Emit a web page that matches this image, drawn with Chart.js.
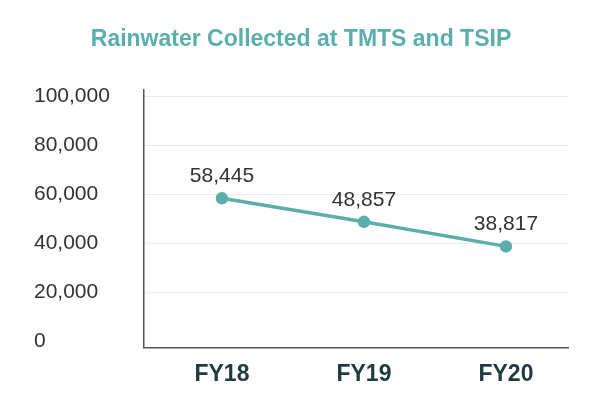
<!DOCTYPE html>
<html>
<head>
<meta charset="utf-8">
<script src="https://cdn.jsdelivr.net/npm/chart.js@4/dist/chart.umd.min.js"></script>
<style>
  html, body { margin: 0; padding: 0; background: #ffffff; }
  #wrap { width: 614px; height: 419px; }
</style>
</head>
<body>
<div id="wrap"><canvas id="c" width="614" height="419"></canvas></div>
<script>
const categories = ["FY18", "FY19", "FY20"];
const values = [58445, 48857, 38817];
const yTicks = [0, 20000, 40000, 60000, 80000, 100000];
const titleText = "Rainwater Collected at TMTS and TSIP";

const FONT = '"Liberation Sans", Arial, Helvetica, sans-serif';
const TEAL = '#5aaeac';

const valueLabels = {
  id: 'valueLabels',
  afterDatasetsDraw(chart) {
    const ctx = chart.ctx;
    const meta = chart.getDatasetMeta(0);
    ctx.save();
    ctx.font = '21px ' + FONT;
    ctx.fillStyle = '#333333';
    ctx.textAlign = 'center';
    ctx.textBaseline = 'middle';
    meta.data.forEach((el, i) => {
      ctx.fillText(values[i].toLocaleString('en-US'), el.x, el.y - 22);
    });
    ctx.restore();
  }
};

new Chart(document.getElementById('c'), {
  type: 'line',
  data: {
    datasets: [{
      data: values.map((v, i) => ({ x: i, y: v })),
      borderColor: TEAL,
      backgroundColor: TEAL,
      borderWidth: 3.5,
      pointRadius: 4.5,
      pointBackgroundColor: TEAL,
      pointBorderColor: TEAL,
      tension: 0,
      fill: false
    }]
  },
  options: {
    responsive: false,
    animation: false,
    devicePixelRatio: 1,
    layout: { padding: { top: 8, left: 34, right: 46, bottom: 18 } },
    plugins: {
      legend: { display: false },
      tooltip: { enabled: false },
      title: {
        display: true,
        text: titleText,
        color: TEAL,
        font: { family: FONT, size: 23, weight: 'bold' },
        padding: { top: 18, bottom: 36 }
      }
    },
    scales: {
      x: {
        type: 'linear',
        min: -0.549,
        max: 2.437,
        afterBuildTicks: (scale) => { scale.ticks = categories.map((c, i) => ({ value: i })); },
        ticks: {
          callback: (v) => categories[v] ?? '',
          color: '#1e3c40',
          font: { family: FONT, size: 23, weight: 'bold' },
          padding: 13,
          maxRotation: 0,
          autoSkip: false
        },
        grid: { display: false, drawTicks: false },
        border: { display: true, color: '#555555', width: 1.5 }
      },
      y: {
        min: -2450,
        max: 102860,
        afterBuildTicks: (scale) => { scale.ticks = yTicks.map(v => ({ value: v })); },
        afterFit: (scale) => { scale.width = 110; },
        ticks: {
          callback: (v) => v.toLocaleString('en-US'),
          color: '#333333',
          font: { family: FONT, size: 21 },
          crossAlign: 'far',
          padding: 10
        },
        grid: {
          drawTicks: false,
          color: (ctx) => (ctx.tick && ctx.tick.value === 0) ? 'rgba(0,0,0,0)' : '#ebebeb',
          lineWidth: 1
        },
        border: { display: true, color: '#555555', width: 1.5 }
      }
    }
  },
  plugins: [valueLabels]
});
</script>
</body>
</html>
